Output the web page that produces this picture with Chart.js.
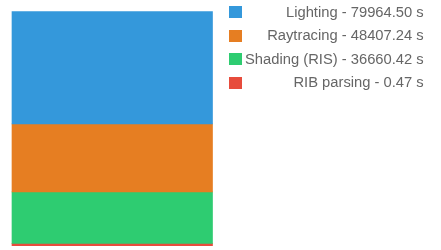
<!DOCTYPE html>
<html>
<head>
<meta charset="utf-8">
<script src="https://cdn.jsdelivr.net/npm/chart.js@4/dist/chart.umd.min.js"></script>
<style>
  body { margin: 0; background: #fff; }
  .wrap { position: relative; width: 441px; height: 250px; }
  #legend {
    position: absolute; left: 229px; top: 0.8px;
    display: grid; grid-template-columns: 13px auto; column-gap: 3px;
    font-family: 'Liberation Sans', Arial, sans-serif; font-size: 14.75px; color: #666;
  }
  #legend .box { width: 13px; height: 12px; align-self: center; }
  #legend .txt { height: 23.4px; line-height: 23.4px; text-align: right; white-space: nowrap; }
</style>
</head>
<body>
<div class="wrap">
  <canvas id="chart" width="441" height="250"></canvas>
  <div id="legend"></div>
</div>
<script>
const categories = ['Render time'];
const seriesNames = ['Lighting', 'Raytracing', 'Shading (RIS)', 'RIB parsing'];
const seriesValues = [79964.50, 48407.24, 36660.42, 0.47];
const seriesColors = ['#3498db', '#e67e22', '#2ecc71', '#e74c3c'];

const total = seriesValues.reduce((a, b) => a + b, 0);

// one stacked bar, first series on top (reversed axis)
const chart = new Chart(document.querySelector('#chart').getContext('2d'), {
    type: 'bar',
    data: {
        labels: categories,
        datasets: seriesNames.map((name, i) => ({
            label: name + ' - ' + seriesValues[i].toFixed(2) + ' s',
            data: [seriesValues[i]],
            backgroundColor: seriesColors[i],
            borderWidth: 0,
            barPercentage: 1,
            categoryPercentage: 1,
            minBarLength: 2.4,
            clip: false
        }))
    },
    options: {
        responsive: false,
        animation: false,
        layout: { padding: { left: 12, top: 11.7, right: 228.5, bottom: 6.7 } },
        scales: {
            x: { stacked: true, display: false },
            y: { stacked: true, display: false, reverse: true, min: 0, max: total }
        },
        plugins: {
            legend: { display: false },
            tooltip: { enabled: false }
        }
    }
});

// html legend, text right aligned
const legend = document.querySelector('#legend');
chart.data.datasets.forEach(ds => {
    const box = document.createElement('div');
    box.className = 'box';
    box.style.background = ds.backgroundColor;
    const txt = document.createElement('div');
    txt.className = 'txt';
    txt.textContent = ds.label;
    legend.appendChild(box);
    legend.appendChild(txt);
});
</script>
</body>
</html>
